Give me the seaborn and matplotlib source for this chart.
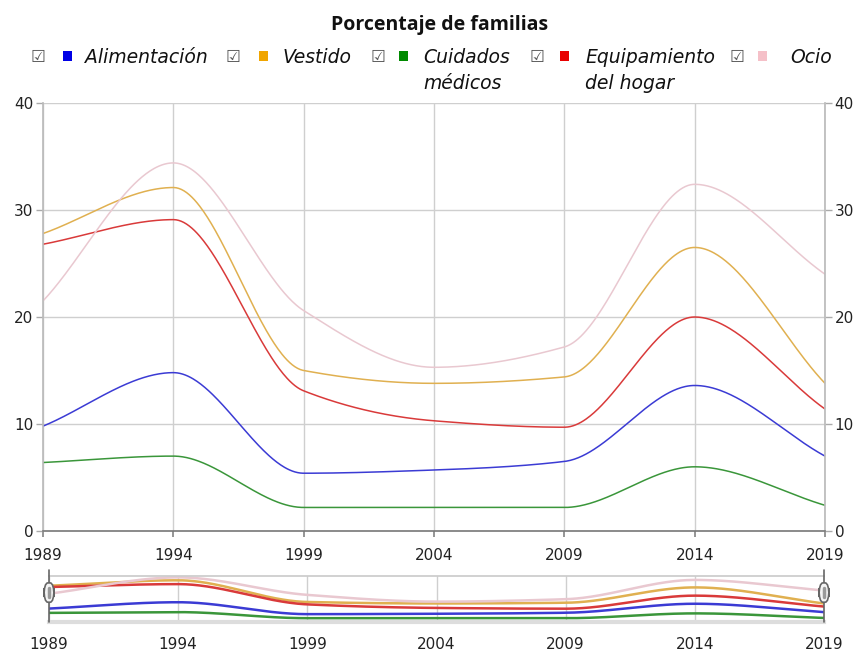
import numpy as np
import pandas as pd
import matplotlib
matplotlib.use('Agg')
import matplotlib.pyplot as plt
import seaborn as sns
from matplotlib.patches import FancyBboxPatch, Rectangle
import matplotlib.transforms as mtransforms

years = [1989, 1994, 1999, 2004, 2009, 2014, 2019]
alimentacion = [9.8, 14.8, 5.4, 5.7, 6.5, 13.6, 7.0]
vestido = [27.8, 32.1, 15.0, 13.8, 14.4, 26.5, 13.8]
cuidados = [6.4, 7.0, 2.2, 2.2, 2.2, 6.0, 2.4]
equipamiento = [26.8, 29.1, 13.1, 10.3, 9.7, 20.0, 11.4]
ocio = [21.5, 34.4, 20.6, 15.3, 17.2, 32.4, 24.0]

series_names = ['Alimentación', 'Vestido', 'Cuidados médicos', 'Equipamiento del hogar', 'Ocio']
legend_lines = [['Alimentación'], ['Vestido'], ['Cuidados', 'médicos'], ['Equipamiento', 'del hogar'], ['Ocio']]
line_colors = ['#3b3bd4', '#e0b050', '#3a963a', '#d93a3a', '#e9c8d0']
legend_colors = ['#0000e6', '#f0a500', '#008a00', '#e80000', '#f5c0c8']
yticks = [0, 10, 20, 30, 40]
title = 'Porcentaje de familias'

all_values = [alimentacion, vestido, cuidados, equipamiento, ocio]


def monotone(x, y, xs):
    x = np.asarray(x, float)
    y = np.asarray(y, float)
    h = np.diff(x)
    d = np.diff(y) / h
    m = np.zeros_like(y)
    m[0] = d[0]
    m[-1] = d[-1]
    for i in range(1, len(y) - 1):
        if d[i - 1] * d[i] <= 0:
            m[i] = 0.0
        else:
            w1 = 2 * h[i] + h[i - 1]
            w2 = h[i] + 2 * h[i - 1]
            m[i] = (w1 + w2) / (w1 / d[i - 1] + w2 / d[i])
    idx = np.clip(np.searchsorted(x, xs) - 1, 0, len(x) - 2)
    t = (xs - x[idx]) / h[idx]
    h00 = 2 * t**3 - 3 * t**2 + 1
    h10 = t**3 - 2 * t**2 + t
    h01 = -2 * t**3 + 3 * t**2
    h11 = t**3 - t**2
    return h00 * y[idx] + h10 * h[idx] * m[idx] + h01 * y[idx + 1] + h11 * h[idx] * m[idx + 1]


xs = np.linspace(years[0], years[-1], 600)
frames = []
for name, vals in zip(series_names, all_values):
    frames.append(pd.DataFrame({'Año': xs, 'Valor': monotone(years, vals, xs), 'Serie': name}))
df = pd.concat(frames, ignore_index=True)
palette = dict(zip(series_names, line_colors))

sns.set_theme(style='white')
plt.rcParams['font.family'] = ['DejaVu Sans']

fig = plt.figure(figsize=(8.6, 6.51), dpi=100)
W, H = 860, 651
x0, x1 = 43, 825
ax = fig.add_axes([x0 / W, 1 - 531 / H, (x1 - x0) / W, (531 - 103) / H])

grid_c = '#cfcfcf'
for yv in yticks[1:]:
    ax.axhline(yv, color=grid_c, lw=1, zorder=0)
for xv in years:
    ax.axvline(xv, color=grid_c, lw=1, zorder=0)

sns.lineplot(data=df, x='Año', y='Valor', hue='Serie', palette=palette, ax=ax,
             legend=False, linewidth=1.1, sort=False, estimator=None)
ax.set_xlim(years[0], years[-1])
ax.set_ylim(0, 40)
ax.set_xlabel('')
ax.set_ylabel('')
ax.set_xticks(years)
ax.set_xticklabels([str(y) for y in years], fontsize=11, color='#222222')
ax.set_yticks(yticks)
ax.set_yticklabels([str(v) for v in yticks], fontsize=11, color='#222222')
ax.tick_params(axis='y', which='both', left=True, right=True, labelleft=True, labelright=True,
               length=5, width=1, color='#aaaaaa', pad=2)
ax.tick_params(axis='x', bottom=True, length=4, color='#888888', pad=8)
ax.spines['top'].set_visible(False)
ax.spines['left'].set_color('#bbbbbb')
ax.spines['right'].set_color('#bbbbbb')
ax.spines['bottom'].set_color('#777777')
ax.spines['bottom'].set_linewidth(1.2)

# navigator
n0, n1 = 49, 824
nav = fig.add_axes([n0 / W, 1 - 622 / H, (n1 - n0) / W, (622 - 576) / H])
for xv in years:
    nav.axvline(xv, color=grid_c, lw=1, zorder=0)
sns.lineplot(data=df, x='Año', y='Valor', hue='Serie', palette=palette, ax=nav,
             legend=False, linewidth=1.8, sort=False, estimator=None)
nav.set_xlim(years[0], years[-1])
nav.set_ylim(-0.8, 35.5)
nav.set_xlabel('')
nav.set_ylabel('')
nav.set_yticks([])
nav.set_xticks(years)
nav.set_xticklabels([str(y) for y in years], fontsize=11, color='#222222')
nav.tick_params(axis='x', bottom=False, pad=5)
for s in ['left', 'right']:
    nav.spines[s].set_visible(False)
nav.spines['top'].set_color('#cccccc')
nav.spines['bottom'].set_color('#dddddd')
nav.spines['bottom'].set_linewidth(3)

trans = mtransforms.blended_transform_factory(nav.transData, nav.transAxes)
for xv in [years[0], years[-1]]:
    nav.plot([xv, xv], [0, 1.12], transform=trans, color='#666666', lw=1.2, clip_on=False, zorder=5)
    hw = 10 / (n1 - n0) * (years[-1] - years[0])
    p = FancyBboxPatch((xv - hw / 2, 0.43), hw, 0.42, boxstyle='round,pad=0,rounding_size=0.15',
                       transform=trans, facecolor='#f4f4f4', edgecolor='#666666', lw=1.2,
                       clip_on=False, zorder=6, mutation_aspect=2)
    nav.add_patch(p)
    nav.plot([xv, xv], [0.54, 0.74], transform=trans, color='#999999', lw=2.5,
             solid_capstyle='round', clip_on=False, zorder=7)

# title
fig.text(440 / W, 1 - 30 / H, title, ha='center', va='baseline', fontsize=14,
         fontweight='bold', family=['Open Sans', 'DejaVu Sans'], color='#111111')

# legend
box_x = [38, 233, 378, 537, 737]
sq_x = [67, 263, 403, 565, 763]
txt_x = [85, 283, 423, 585, 790]
base1, base2 = 63, 89
for bx, sx, tx, lines, col in zip(box_x, sq_x, txt_x, legend_lines, legend_colors):
    fig.text(bx / W, 1 - 57 / H, '☑', ha='center', va='center', fontsize=12,
             color='#555555', family=['DejaVu Sans'])
    fig.patches.append(Rectangle((sx / W - 4.5 / W, 1 - 56 / H - 4.5 / H), 9 / W, 9 / H,
                                 transform=fig.transFigure, facecolor=col, edgecolor='none'))
    for ln, by in zip(lines, [base1, base2]):
        fig.text(tx / W, 1 - by / H, ln, ha='left', va='baseline', fontsize=13.5,
                 style='italic', color='#111111')

fig.savefig('out.png', dpi=100)
